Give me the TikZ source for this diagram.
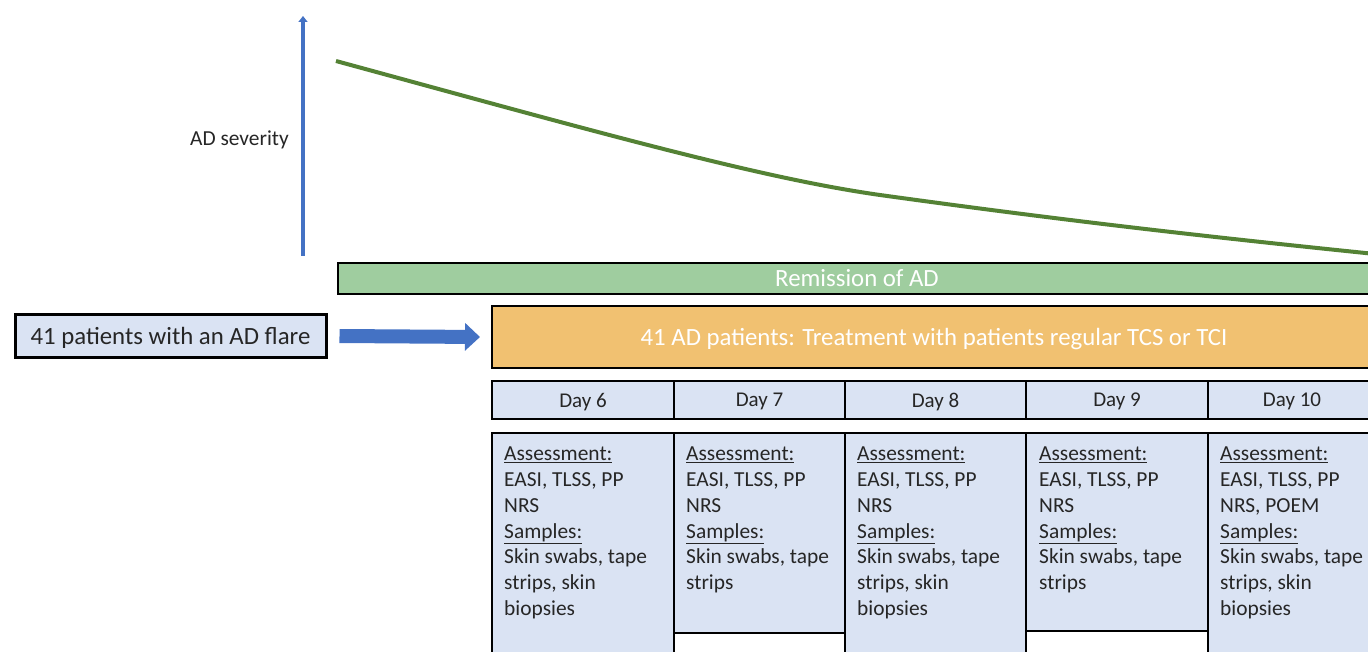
\documentclass[tikz,border=0pt]{standalone}
\usepackage{fontspec}
\setmainfont{Carlito}
\usetikzlibrary{arrows.meta}
\definecolor{axisblue}{HTML}{4472C4}
\definecolor{curvegreen}{HTML}{548235}
\definecolor{remgreen}{HTML}{9FCD9F}
\definecolor{treatorange}{HTML}{F1C171}
\definecolor{lightblue}{HTML}{DAE3F3}
\definecolor{txt}{RGB}{38,38,38}
\begin{document}
\begin{tikzpicture}[x=1pt,y=-1pt,
  cell/.style={draw=black, line width=2pt, fill=lightblue, anchor=north west, inner sep=0pt},
  bar/.style={draw=black, line width=2pt, anchor=north west, inner sep=0pt, text=white,
    font={\fontsize{24.8}{28}\selectfont}},
  daytxt/.style={text=txt, text depth=0pt, font={\fontsize{21}{25}\selectfont}},
  content/.style={text=txt, anchor=north west, align=left, inner sep=0pt,
    font={\fontsize{21.4}{25.7}\selectfont}},
  axisline/.style={draw=axisblue, line width=3.5pt, -{Triangle[length=6pt,width=9pt]}},
  curveline/.style={draw=curvegreen, line width=4pt},
  blockarr/.style={draw=axisblue, line width=14pt, -{Triangle[length=15pt,width=27pt]}}
]
\useasboundingbox (0,0) rectangle (1368,652);
\clip (0,0) rectangle (1368,652);

% severity axis
\coordinate (axb) at (303,256);
\coordinate (axt) at (303,16);
\draw[axisline] (axb) -- (axt);
\node[anchor=east, text=txt, text depth=0pt, font={\fontsize{21.4}{25}\selectfont}, inner sep=0pt] (sev) at (289,138) {AD severity};

% severity curve
\coordinate (cs) at (336,61);
\coordinate (cm) at (880,195);
\coordinate (ce) at (1375,254);
\draw[curveline] (cs) .. controls (600,133) and (760,178) .. (cm) .. controls (1060,220) and (1200,236) .. (ce);

% remission bar
\node[bar, fill=remgreen, minimum width=1038pt, minimum height=31pt] (rem) at (337,262) {Remission of AD};

% patients box
\node[draw=black, line width=3pt, fill=lightblue, minimum width=311pt, minimum height=42pt,
  text=txt, text depth=0pt, font={\fontsize{24.8}{28}\selectfont}, inner sep=0pt] (flare) at (170.5,336) {41 patients with an AD flare};

% treatment bar
\node[bar, fill=treatorange, text depth=0pt, minimum width=884pt, minimum height=62pt] (treat) at (491,305) {41 AD patients: Treatment with patients regular TCS or TCI};

\draw[blockarr] ([xshift=12pt]flare.east) -- ([xshift=-11pt]treat.west);

% day headers
\node[cell, minimum width=182pt, minimum height=38pt] (h6) at (491,380) {};
\node[cell, minimum width=171pt, minimum height=38pt] (h7) at (673,380) {};
\node[cell, minimum width=181pt, minimum height=38pt] (h8) at (844,380) {};
\node[cell, minimum width=182pt, minimum height=38pt] (h9) at (1025,380) {};
\node[cell, minimum width=168pt, minimum height=38pt] (h10) at (1207,380) {};
\node[daytxt] (d6) at (h6.center) {Day 6};
\node[daytxt] (d7) at (h7.center) {Day 7};
\node[daytxt] (d8) at (h8.center) {Day 8};
\node[daytxt] (d9) at (h9.center) {Day 9};
\node[daytxt] (d10) at (h10.center) {Day 10};

% content boxes
\node[cell, minimum width=182pt, minimum height=280pt] (c6) at (491,432) {};
\node[cell, minimum width=171pt, minimum height=200pt] (c7) at (673,432) {};
\node[cell, fill=white, minimum width=171pt, minimum height=80pt] (c7b) at (673,632) {};
\node[cell, minimum width=181pt, minimum height=280pt] (c8) at (844,432) {};
\node[cell, minimum width=182pt, minimum height=198pt] (c9) at (1025,432) {};
\node[cell, fill=white, minimum width=182pt, minimum height=80pt] (c9b) at (1025,630) {};
\node[cell, minimum width=168pt, minimum height=280pt] (c10) at (1207,432) {};

\node[content] (t6) at (504,447) {\underline{Assessment:}\\EASI, TLSS, PP\\NRS\\\underline{Samples:}\\Skin swabs, tape\\strips, skin\\biopsies};
\node[content] (t7) at (686,447) {\underline{Assessment:}\\EASI, TLSS, PP\\NRS\\\underline{Samples:}\\Skin swabs, tape\\strips};
\node[content] (t8) at (857,447) {\underline{Assessment:}\\EASI, TLSS, PP\\NRS\\\underline{Samples:}\\Skin swabs, tape\\strips, skin\\biopsies};
\node[content] (t9) at (1039,447) {\underline{Assessment:}\\EASI, TLSS, PP\\NRS\\\underline{Samples:}\\Skin swabs, tape\\strips};
\node[content] (t10) at (1220,447) {\underline{Assessment:}\\EASI, TLSS, PP\\NRS, POEM\\\underline{Samples:}\\Skin swabs, tape\\strips, skin\\biopsies};
\end{tikzpicture}
\end{document}
